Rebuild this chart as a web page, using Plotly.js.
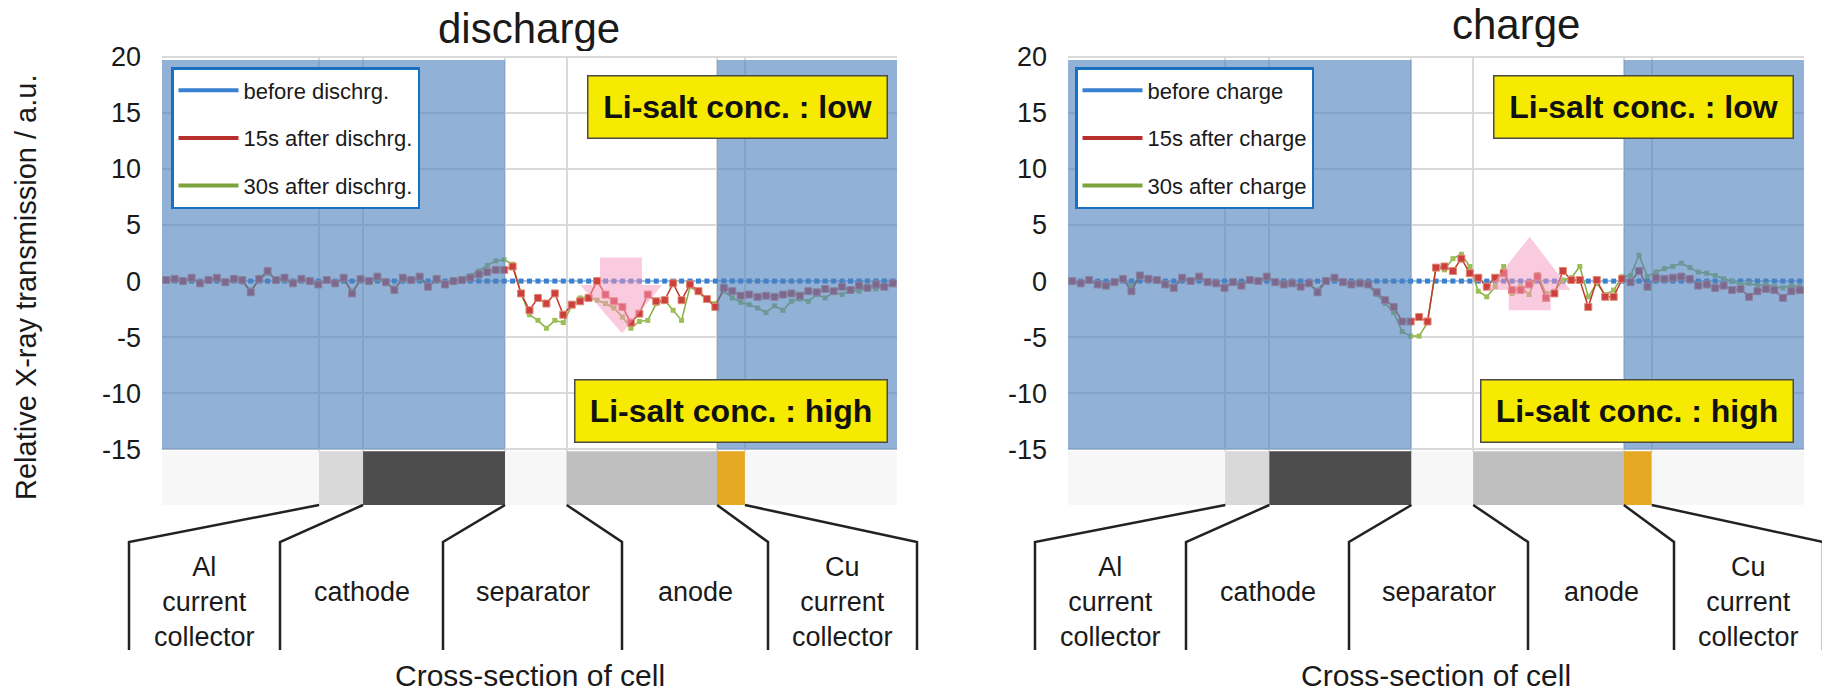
<!DOCTYPE html>
<html>
<head>
<meta charset="utf-8">
<script src="https://cdn.plot.ly/plotly-3.0.1.min.js"></script>
<style>
  html, body { margin: 0; padding: 0; background: #ffffff; }
  #chart { width: 1822px; height: 693px; }
</style>
</head>
<body>
<div id="chart"></div>
<script>
// Relative X-ray transmission across the cell cross-section, one sample per position unit.
const baseline = [
  0, 0, 0, 0, 0, 0, 0, 0, 0, 0, 0, 0, 0, 0, 0, 0, 0, 0, 0, 0, 0, 0, 0, 0, 0, 0, 0, 0, 0, 0,
  0, 0, 0, 0, 0, 0, 0, 0, 0, 0, 0, 0, 0, 0, 0, 0, 0, 0, 0, 0, 0, 0, 0, 0, 0, 0, 0, 0, 0, 0,
  0, 0, 0, 0, 0, 0, 0, 0, 0, 0, 0, 0, 0, 0, 0, 0, 0, 0, 0, 0, 0, 0, 0, 0, 0, 0, 0
];

const dischargeAfter15 = [
  0.1, 0.2, 0.0, 0.3, -0.2, 0.1, 0.3, -0.1, 0.2, 0.1,
  -1.0, 0.2, 0.9, 0.1, 0.3, -0.2, 0.2, 0.0, -0.3, 0.1,
  -0.2, 0.3, -1.1, 0.2, 0.0, 0.4, -0.1, -0.8, 0.3, 0.1,
  0.4, -0.5, 0.2, -0.3, 0.0, 0.1, 0.3, 0.6,
  0.8, 1.0, 1.0, 1.3,
  -1.1, -2.6, -1.5, -2.0, -1.1, -3.0, -2.1, -1.8, -1.5, 0.0,
  -1.2, -1.8, -2.3, -3.7, -2.9, -1.2, -1.8, -1.7, -0.2, -1.7,
  -0.3, -0.9, -1.6, -2.3,
  -0.6, -0.9, -1.3, -1.2, -1.4, -1.3, -1.4, -1.2, -1.1, -1.3, -0.9,
  -1.0, -0.7, -0.9, -0.5, -0.8, -0.4, -0.6, -0.3, -0.5, -0.2
];

const dischargeAfter30 = [
  0.0, 0.1, -0.1, 0.2, -0.3, 0.2, 0.2, -0.2, 0.1, -0.1,
  -0.8, 0.1, 0.7, 0.2, 0.1, -0.3, 0.1, -0.1, -0.2, 0.0,
  -0.3, 0.2, -0.9, 0.0, -0.1, 0.2, -0.2, -0.6, 0.1, 0.0,
  0.2, -0.4, 0.0, -0.2, 0.1, 0.2, 0.5, 0.9,
  1.4, 1.8, 1.9, 1.5,
  -1.1, -3.0, -3.5, -4.2, -3.5, -3.7, -2.2, -1.5, -1.4, -1.7,
  -2.0, -2.4, -3.2, -4.2, -3.6, -3.5, -2.0, -1.7, -2.6, -3.5,
  -0.5, -1.0, -1.7, -2.0,
  -0.9, -1.5, -1.9, -2.1, -2.4, -2.8, -2.2, -2.6, -1.8, -1.6, -1.8,
  -1.2, -1.5, -1.0, -1.2, -0.8, -0.9, -0.5, -0.7, -0.4, -0.3
];

const chargeAfter15 = [
  0.0, -0.2, 0.1, -0.3, -0.4, -0.1, 0.2, -0.9, 0.5, 0.2,
  0.1, -0.3, -0.6, 0.3, 0.0, 0.4, -0.1, -0.2, -0.6, -0.1,
  -0.4, 0.1, 0.0, 0.4, -0.1, -0.3, -0.2, -0.5, -0.2, -1.0,
  0.0, 0.3, -0.1, -0.3, -0.2, -0.3, -1.0,
  -1.7, -2.3,
  -3.6, -3.6, -3.2, -3.6, 1.2, 1.3, 0.9, 2.0, 0.7, 0.3,
  -0.5, 0.3, 0.7, -0.8, -0.8, -0.3, 0.4, -1.5, -1.1, 0.9,
  0.1, 0.1, -2.3, 0.1, -1.4, -1.4,
  0.2, -0.1, 0.9, -0.5, 0.3, 0.2, 0.3, 0.4, 0.2, -0.4, -0.3,
  -0.6, -0.4, -0.8, -0.7, -1.4, -0.9, -0.7, -0.8, -1.5, -0.9, -0.8
];

const chargeAfter30 = [
  -0.1, -0.1, 0.0, -0.2, -0.3, 0.0, 0.3, -0.5, 0.4, 0.3,
  0.0, -0.2, -0.5, 0.2, 0.1, 0.3, 0.0, -0.3, -0.5, 0.0,
  -0.3, 0.2, 0.1, 0.3, 0.0, -0.2, -0.1, -0.4, -0.3, -0.8,
  0.1, 0.2, 0.0, -0.2, -0.1, -0.4, -1.2,
  -2.0, -2.8,
  -4.5, -4.9, -4.9, -3.7, 1.3, 1.0, 2.0, 2.4, 1.3, -0.9,
  -1.4, -0.5, 1.3, -1.1, -0.5, -1.2, 0.6, -1.1, -0.9, 0.1,
  0.3, 1.3, -1.4, -0.2, -1.2, -0.8,
  0.4, 0.5, 2.3, 0.4, 0.8, 1.1, 1.3, 1.6, 1.2, 0.8, 0.7,
  0.5, 0.2, 0.0, -0.3, -0.2, -0.4, -0.3, -0.5, -0.6, -0.4, -0.5
];

// Layer boundaries across the cell (position units) and the layer names
const layerEdges = [18.6, 23.8, 40.6, 47.9, 65.7, 69.0];
const layerNames = ['Al<br>current<br>collector', 'cathode', 'separator', 'anode', 'Cu<br>current<br>collector'];

const yTicks = [20, 15, 10, 5, 0, -5, -10, -15];
const yTickText = ['20', '15', '10', '5', '0', '-5', '-10', '-15'];
const panelTitles = ['discharge', 'charge'];
const seriesNames = [
  ['before dischrg.', '15s after dischrg.', '30s after dischrg.'],
  ['before charge', '15s after charge', '30s after charge']
];
const saltLabels = ['Li-salt conc. : low', 'Li-salt conc. : high'];
const yTitle = 'Relative X-ray transmission / a.u.';
const xTitle = 'Cross-section of cell';

const position = baseline.map((_, i) => i + 0.5);

// ---- page geometry (pixels) ----
const W = 1822, H = 693;
const FONT = 'Liberation Sans, Arial, Helvetica, sans-serif';
const px = v => v / W;
const py = v => 1 - v / H;
const X_RANGE = [0, 87];
const Y_RANGE = [-19.95, 20.1];
const PLOT_TOP = 55.5, PLOT_BOTTOM = 505;
const STRIP_TOP = -15, BLUE_TOP = 19.7;

const COLORS = {
  before: '#3a80d0',
  after15: '#c0392b',
  after30: '#86ad45',
  shade: 'rgba(79,129,189,0.62)',
  grid: '#d9d9d9',
  text: '#1a1a1a'
};

const panels = [
  {
    left: 162, right: 897, xa: 'x', ya: 'y', legend: 'legend', legendLeft: 171,
    titleX: 529, titleY: 28,
    data: [baseline, dischargeAfter15, dischargeAfter30],
    // pink arrow pointing down
    arrow: 'M51.85,2.1 L56.8,2.1 L56.8,-0.35 L59.2,-0.35 L54.45,-4.65 L49.5,-0.35 L51.85,-0.35 Z'
  },
  {
    left: 1068, right: 1804, xa: 'x2', ya: 'y2', legend: 'legend2', legendLeft: 1075,
    titleX: 1516, titleY: 24,
    data: [baseline, chargeAfter15, chargeAfter30],
    // pink arrow pointing up
    arrow: 'M52.1,-2.6 L57.05,-2.6 L57.05,-0.8 L59.4,-0.8 L54.57,3.95 L49.6,-0.8 L52.1,-0.8 Z'
  }
];

const traces = [];
const shapes = [];
const annotations = [];
const layout = {
  width: W, height: H,
  margin: { l: 0, r: 0, t: 0, b: 0 },
  paper_bgcolor: '#ffffff',
  plot_bgcolor: '#ffffff',
  showlegend: true,
  font: { family: FONT, color: COLORS.text }
};

panels.forEach((p, idx) => {
  const axSuffix = idx === 0 ? '' : '2';
  const [before, after15, after30] = p.data;
  const names = seriesNames[idx];

  // data traces
  traces.push({
    x: position, y: before, xaxis: p.xa, yaxis: p.ya, type: 'scatter', mode: 'lines+markers',
    line: { color: '#8db8e8', width: 1.5 },
    marker: { symbol: 'square', size: 5, color: COLORS.before },
    showlegend: false, hoverinfo: 'skip'
  });
  traces.push({
    x: position, y: after30, xaxis: p.xa, yaxis: p.ya, type: 'scatter', mode: 'lines+markers',
    line: { color: COLORS.after30, width: 1.5 },
    marker: { symbol: 'square', size: 5, color: '#9cc056' },
    showlegend: false, hoverinfo: 'skip'
  });
  traces.push({
    x: position, y: after15, xaxis: p.xa, yaxis: p.ya, type: 'scatter', mode: 'lines+markers',
    line: { color: COLORS.after15, width: 1.5 },
    marker: { symbol: 'square', size: 7, color: '#cc3f3f', line: { color: '#e08a70', width: 1 } },
    showlegend: false, hoverinfo: 'skip'
  });

  // legend entries (line only)
  [[names[0], COLORS.before], [names[1], '#b8302c'], [names[2], '#7ba33e']].forEach(([nm, col], j) => {
    traces.push({
      x: [null], y: [null], xaxis: p.xa, yaxis: p.ya, type: 'scatter', mode: 'lines',
      name: nm, line: { color: col, width: 4 },
      legend: p.legend, legendgroup: p.legend + '-' + j, hoverinfo: 'skip'
    });
  });

  layout[p.legend] = {
    x: px(p.legendLeft), y: py(67), xanchor: 'left', yanchor: 'top',
    bgcolor: '#ffffff', bordercolor: '#1a6fc0', borderwidth: 2.5,
    font: { family: FONT, size: 22, color: COLORS.text },
    traceorder: 'grouped', tracegroupgap: 16, itemwidth: 60
  };

  layout['xaxis' + axSuffix] = {
    domain: [px(p.left), px(p.right)], range: X_RANGE, anchor: 'y' + axSuffix,
    tickmode: 'array', tickvals: layerEdges, showticklabels: false, ticks: '',
    showgrid: true, gridcolor: COLORS.grid, gridwidth: 2,
    zeroline: false, showline: false, fixedrange: true
  };
  layout['yaxis' + axSuffix] = {
    domain: [py(PLOT_BOTTOM), py(PLOT_TOP)], range: Y_RANGE, anchor: 'x' + axSuffix,
    tickmode: 'array', tickvals: yTicks, ticktext: yTickText, ticks: '', ticklabelstandoff: 20,
    tickfont: { family: FONT, size: 27, color: COLORS.text },
    showgrid: true, gridcolor: COLORS.grid, gridwidth: 2,
    zeroline: false, showline: false, fixedrange: true
  };

  // shaded electrode zones
  [[X_RANGE[0], layerEdges[2]], [layerEdges[4], X_RANGE[1]]].forEach(([x0, x1]) => {
    shapes.push({
      type: 'rect', xref: p.xa, yref: p.ya, x0, x1, y0: STRIP_TOP, y1: BLUE_TOP,
      fillcolor: COLORS.shade, line: { width: 0 }, layer: 'above'
    });
  });

  // cell cross-section strip
  const stripEdges = [X_RANGE[0], ...layerEdges, X_RANGE[1]];
  const stripColors = ['#f7f7f7', '#d9d9d9', '#4d4d4d', '#f7f7f7', '#bfbfbf', '#e5a823', '#f7f7f7'];
  stripColors.forEach((c, j) => {
    shapes.push({
      type: 'rect', xref: p.xa, yref: p.ya, x0: stripEdges[j], x1: stripEdges[j + 1],
      y0: Y_RANGE[0], y1: STRIP_TOP - 0.15, fillcolor: c, line: { width: 0 }, layer: 'above'
    });
  });

  // concentration change arrow
  shapes.push({
    type: 'path', xref: p.xa, yref: p.ya, path: p.arrow,
    fillcolor: 'rgba(245,150,190,0.5)', line: { width: 0 }, layer: 'above'
  });

  // callout lines from the strip to the layer labels
  const unit = (p.right - p.left) / (X_RANGE[1] - X_RANGE[0]);
  const calloutEnds = [-33, 118, 281, 460, 606, 755];
  layerEdges.forEach((e, j) => {
    const sx = p.left + e * unit;
    const ex = p.left + calloutEnds[j];
    shapes.push({
      type: 'path', xref: 'paper', yref: 'paper',
      path: `M${px(sx)},${py(PLOT_BOTTOM)} L${px(ex)},${py(542)} L${px(ex)},${py(650)}`,
      line: { color: '#222222', width: 2.5 }, layer: 'above'
    });
  });

  // layer labels between the callout lines
  layerNames.forEach((nm, j) => {
    const cx = p.left + (calloutEnds[j] + calloutEnds[j + 1]) / 2;
    const multi = nm.indexOf('<br>') >= 0;
    annotations.push({
      xref: 'paper', yref: 'paper', x: px(cx), y: py(multi ? 602 : 592),
      xanchor: 'center', yanchor: 'middle', showarrow: false, text: nm,
      font: { family: FONT, size: 27, color: COLORS.text }, align: 'center'
    });
  });

  annotations.push({
    xref: 'paper', yref: 'paper', x: px((p.left + p.right) / 2), y: py(675),
    xanchor: 'center', yanchor: 'middle', showarrow: false, text: xTitle,
    height: 32, valign: 'middle',
    font: { family: FONT, size: 30, color: COLORS.text }
  });

  // panel title
  annotations.push({
    xref: 'paper', yref: 'paper', x: px(p.titleX), y: py(p.titleY),
    xanchor: 'center', yanchor: 'middle', showarrow: false, text: panelTitles[idx],
    height: 46, valign: 'middle',
    font: { family: FONT, size: 42, color: COLORS.text }
  });

  // salt concentration boxes
  [[saltLabels[0], 575, 107, 298], [saltLabels[1], 569, 410.5, 311]].forEach(([t, rel, cy, w]) => {
    annotations.push({
      xref: 'paper', yref: 'paper', x: px(p.left + rel), y: py(cy),
      xanchor: 'center', yanchor: 'middle', showarrow: false,
      text: '<b>' + t + '</b>', width: w, height: 61, borderpad: 0,
      align: 'center', valign: 'middle',
      bgcolor: '#f6ea00', bordercolor: '#4a4a4a', borderwidth: 1.5,
      font: { family: FONT, size: 32, color: '#111111' }
    });
  });
});

// shared y-axis title
annotations.push({
  xref: 'paper', yref: 'paper', x: px(26), y: py(288),
  xanchor: 'center', yanchor: 'middle', showarrow: false, textangle: -90,
  text: yTitle, font: { family: FONT, size: 29, color: COLORS.text }
});

layout.shapes = shapes;
layout.annotations = annotations;

Plotly.newPlot('chart', traces, layout, { staticPlot: true, displayModeBar: false });
</script>
</body>
</html>
